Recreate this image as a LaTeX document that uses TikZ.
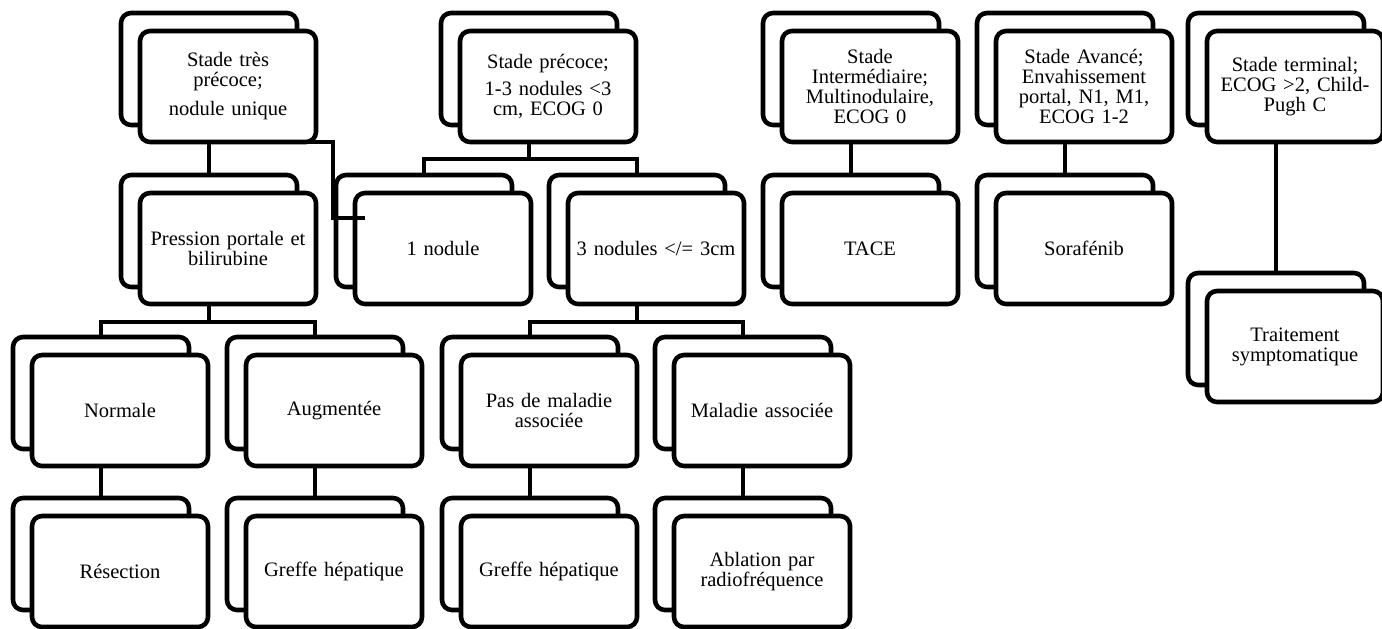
\documentclass[tikz,border=0pt]{standalone}
\usepackage{fontspec}
\setmainfont{Liberation Serif}
\begin{document}
\begin{tikzpicture}[x=1pt,y=-1pt,
  backbox/.style={draw=black, line width=4.6pt, rounded corners=10pt, fill=white,
    minimum width=176pt, minimum height=112pt, inner sep=0pt, outer sep=0pt, anchor=north west},
  frontbox/.style={backbox, minimum height=111pt, align=center, text width=170pt,
    font=\fontsize{20.5}{20}\selectfont},
  link/.style={draw=black, line width=4.6pt}]
\useasboundingbox (0,0) rectangle (1382,629);
\newcommand\dnode[4]{%
  \node[backbox] (#1b) at (#2,#3) {};
  \node[frontbox] (#1) at ({#2+19},{#3+18}) {#4};}
% row 1
\dnode{A}{121}{13}{Stade très\\précoce;\\[9pt]nodule unique}
\dnode{B}{441}{13}{Stade précoce;\\[7pt]1-3 nodules <3\\cm, ECOG 0}
\dnode{C}{763}{13}{Stade\\Intermédiaire;\\Multinodulaire,\\ECOG 0}
\dnode{D}{977}{13}{Stade Avancé;\\Envahissement\\portal, N1, M1,\\ECOG 1-2}
\dnode{E}{1188}{13}{Stade terminal;\\ECOG >2, Child-\\Pugh C}
% row 2
\dnode{P}{121}{175}{Pression portale et\\bilirubine}
\dnode{NA}{336}{175}{1 nodule}
\dnode{NB}{549}{175}{3 nodules </= 3cm}
\dnode{T}{763}{175}{TACE}
\dnode{S}{977}{175}{Sorafénib}
\dnode{ST}{1188}{273}{Traitement\\symptomatique}
% row 3
\dnode{Nor}{13}{337}{Normale}
\dnode{Aug}{227}{337}{Augmentée}
\dnode{Pas}{442}{337}{Pas de maladie\\associée}
\dnode{Mal}{655}{337}{Maladie associée}
% row 4
\dnode{Res}{13}{498}{Résection}
\dnode{GrA}{227}{498}{Greffe hépatique}
\dnode{GrB}{442}{498}{Greffe hépatique}
\dnode{Abl}{655}{498}{Ablation par\\radiofréquence}
% connectors
\draw[link] (A.south -| Ab.north) -- (Pb.north);
\coordinate (k1) at (333,218);
\coordinate (k2) at (365,218);
\draw[link] (A.south -| Ab.north) -| (k1) -- (k2);
\draw[link] (B.south -| Bb.north) -- ++(0,17) coordinate (bj);
\draw[link] (NAb.north) |- (bj) -| (NBb.north);
\draw[link] (C.south -| Cb.north) -- (Tb.north);
\draw[link] (D.south -| Db.north) -- (Sb.north);
\draw[link] (E.south -| Eb.north) -- (STb.north);
\draw[link] (P.south -| Pb.north) -- ++(0,18) coordinate (pj);
\draw[link] (Norb.north) |- (pj) -| (Augb.north);
\draw[link] (NB.south -| NBb.north) -- ++(0,18) coordinate (nj);
\draw[link] (Pasb.north) |- (nj) -| (Malb.north);
\draw[link] (Nor.south -| Norb.north) -- (Resb.north);
\draw[link] (Aug.south -| Augb.north) -- (GrAb.north);
\draw[link] (Pas.south -| Pasb.north) -- (GrBb.north);
\draw[link] (Mal.south -| Malb.north) -- (Ablb.north);
\end{tikzpicture}
\end{document}
